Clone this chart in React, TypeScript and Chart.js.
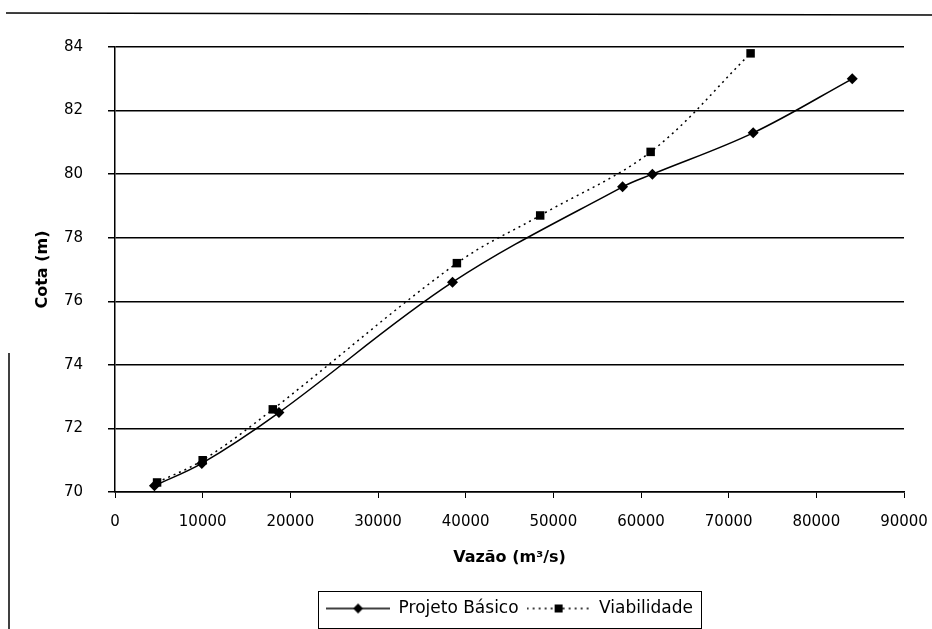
import React, { useEffect, useRef } from "react";
import { Chart, registerables } from "chart.js";

Chart.register(...registerables);

// ---- data ----
const SERIES_NAMES = ["Projeto Básico", "Viabilidade"];
const projetoVazao = [4500, 9900, 18700, 38500, 57900, 61300, 72800, 84100];
const projetoCota = [70.2, 70.9, 72.5, 76.6, 79.6, 80.0, 81.3, 83.0];
const viabVazao = [4800, 10000, 18000, 39000, 48500, 61100, 72500];
const viabCota = [70.3, 71.0, 72.6, 77.2, 78.7, 80.7, 83.8];
const X_TICKS = [0, 10000, 20000, 30000, 40000, 50000, 60000, 70000, 80000, 90000];
const Y_TICKS = [70, 72, 74, 76, 78, 80, 82, 84];
const X_TITLE = "Vazão (m³/s)";
const Y_TITLE = "Cota (m)";

const W = 932;
const H = 629;
const FONT = "'DejaVu Sans', 'Liberation Sans', sans-serif";

function makeSample(kind: "diamond" | "square"): HTMLCanvasElement {
  const c = document.createElement("canvas");
  c.width = 64;
  c.height = 12;
  const g = c.getContext("2d")!;
  g.strokeStyle = "#000";
  g.lineWidth = 1.5;
  if (kind === "square") g.setLineDash([2, 4]);
  g.beginPath();
  g.moveTo(0, 6);
  g.lineTo(64, 6);
  g.stroke();
  g.setLineDash([]);
  g.fillStyle = "#000";
  if (kind === "diamond") {
    g.beginPath();
    g.moveTo(27, 6);
    g.lineTo(32, 1);
    g.lineTo(37, 6);
    g.lineTo(32, 11);
    g.closePath();
    g.fill();
  } else {
    g.fillRect(28, 2, 8, 8);
  }
  return c;
}

const framePlugin = {
  id: "frame",
  afterDraw(chart: any) {
    const ctx = chart.ctx as CanvasRenderingContext2D;
    ctx.save();
    ctx.strokeStyle = "#000";
    ctx.lineWidth = 1.5;
    // chart-area border (top and left edges, as visible in the scan)
    ctx.beginPath();
    ctx.moveTo(6, 13);
    ctx.lineTo(W, 15);
    ctx.stroke();
    ctx.beginPath();
    ctx.moveTo(9, 353);
    ctx.lineTo(9, H);
    ctx.stroke();
    // legend border
    const boxes = chart.legend?.legendHitBoxes;
    if (boxes && boxes.length) {
      const first = boxes[0];
      const last = boxes[boxes.length - 1];
      const l = Math.round(first.left - 8);
      const r = Math.round(last.left + last.width + 8);
      const t = Math.round(first.top - 9);
      const b = Math.round(first.top + first.height + 11);
      ctx.lineWidth = 1;
      ctx.strokeRect(l + 0.5, t + 0.5, r - l, b - t);
    }
    ctx.restore();
  },
};

export default function App() {
  const ref = useRef<HTMLCanvasElement | null>(null);

  useEffect(() => {
    if (!ref.current) return;
    const samples = [makeSample("diamond"), makeSample("square")];
    const chart = new Chart(ref.current, {
      type: "line",
      data: {
        datasets: [
          {
            label: SERIES_NAMES[0],
            data: projetoVazao.map((x, i) => ({ x, y: projetoCota[i] })),
            borderColor: "#000",
            backgroundColor: "#000",
            borderWidth: 1.5,
            pointStyle: "rectRot",
            pointRadius: 5.5,
            pointBackgroundColor: "#000",
            pointBorderColor: "#000",
            pointBorderWidth: 0,
            tension: 0.35,
            fill: false,
          },
          {
            label: SERIES_NAMES[1],
            data: viabVazao.map((x, i) => ({ x, y: viabCota[i] })),
            borderColor: "#000",
            backgroundColor: "#000",
            borderWidth: 1.5,
            borderDash: [2, 4],
            pointStyle: "rect",
            pointRadius: 6,
            pointBackgroundColor: "#000",
            pointBorderColor: "#000",
            pointBorderWidth: 0,
            tension: 0.35,
            fill: false,
          },
        ],
      },
      options: {
        animation: false,
        responsive: false,
        devicePixelRatio: 1,
        layout: { padding: { left: 0, right: 28, top: 47, bottom: 2 } },
        scales: {
          x: {
            type: "linear",
            min: X_TICKS[0],
            max: X_TICKS[X_TICKS.length - 1],
            afterFit: (s: any) => {
              s.height = 100;
              s.paddingLeft = 0;
              s.paddingRight = 0;
            },
            afterBuildTicks: (s: any) => {
              s.ticks = X_TICKS.map((v) => ({ value: v }));
            },
            ticks: {
              stepSize: 10000,
              color: "#000",
              padding: 15,
              maxRotation: 0,
              autoSkip: false,
              font: { family: FONT, size: 15 },
              callback: (v: any) => String(v),
            },
            grid: {
              drawOnChartArea: false,
              drawTicks: true,
              tickLength: 6,
              color: "#000",
              lineWidth: 1,
            },
            border: { display: true, color: "#000", width: 1.5 },
            title: {
              display: true,
              text: X_TITLE,
              color: "#000",
              font: { family: FONT, size: 16, weight: "bold" },
              padding: { top: 0, bottom: 25 },
            },
          },
          y: {
            type: "linear",
            min: Y_TICKS[0],
            max: Y_TICKS[Y_TICKS.length - 1],
            afterFit: (s: any) => {
              s.width = 115;
            },
            afterBuildTicks: (s: any) => {
              s.ticks = Y_TICKS.map((v) => ({ value: v }));
            },
            ticks: {
              stepSize: 2,
              color: "#000",
              padding: 25,
              font: { family: FONT, size: 15 },
              callback: (v: any) => String(v),
            },
            grid: {
              drawOnChartArea: true,
              drawTicks: true,
              tickLength: 7,
              color: "#000",
              lineWidth: 1.5,
            },
            border: { display: true, color: "#000", width: 1.5 },
            title: {
              display: true,
              text: Y_TITLE,
              color: "#000",
              font: { family: FONT, size: 16, weight: "bold" },
              padding: { top: 33, bottom: 0 },
            },
          },
        },
        plugins: {
          legend: {
            display: true,
            position: "bottom",
            fullSize: false,
            labels: {
              usePointStyle: true,
              pointStyleWidth: 64,
              padding: 8,
              color: "#000",
              font: { family: FONT, size: 17 },
              generateLabels: (ch: any) =>
                ch.data.datasets.map((ds: any, i: number) => ({
                  text: ds.label,
                  pointStyle: samples[i],
                  fillStyle: "#000",
                  strokeStyle: "#000",
                  lineWidth: 0,
                  fontColor: "#000",
                  hidden: false,
                  datasetIndex: i,
                })),
            },
          },
          tooltip: { enabled: false },
        },
      },
      plugins: [framePlugin],
    });
    return () => chart.destroy();
  }, []);

  return (
    <div style={{ position: "absolute", left: 0, top: 0, width: W, height: H, background: "#fff" }}>
      <canvas ref={ref} width={W} height={H} style={{ width: W, height: H, display: "block" }} />
    </div>
  );
}
